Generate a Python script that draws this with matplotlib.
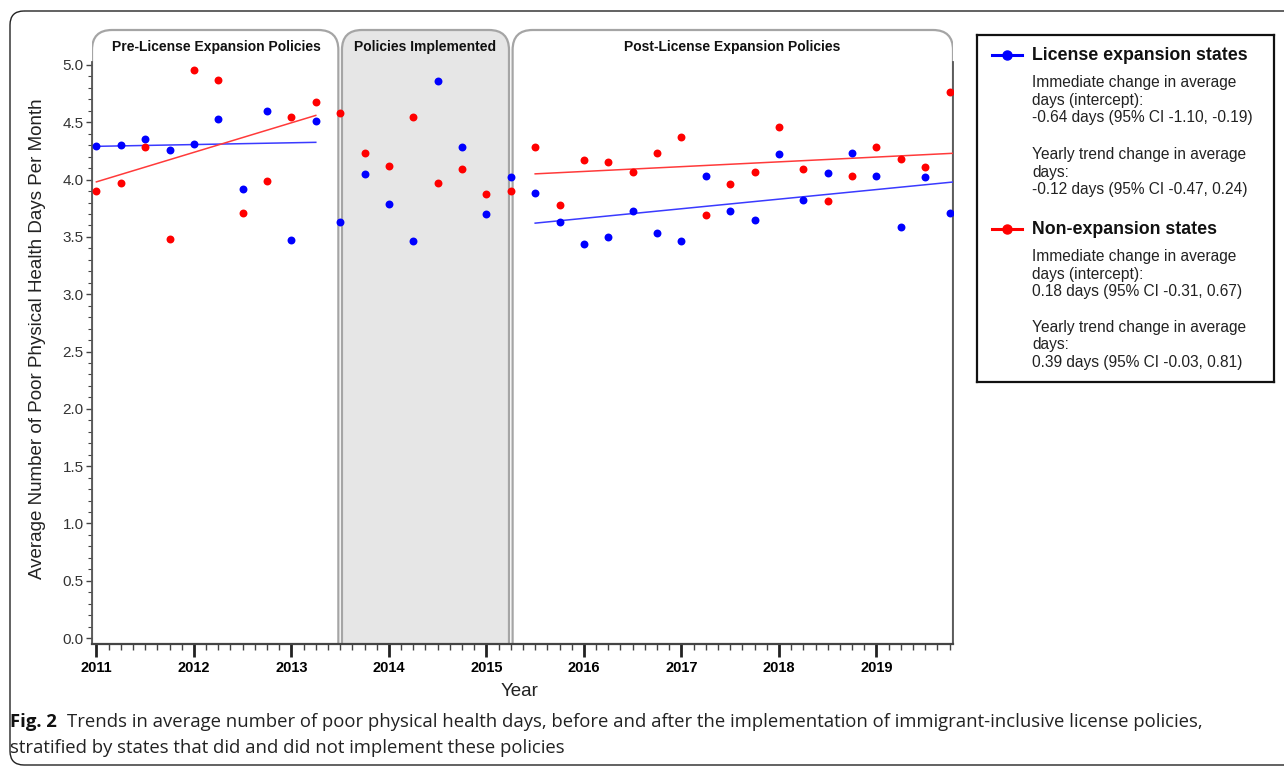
import numpy as np
import matplotlib.pyplot as plt
from matplotlib.patches import FancyBboxPatch
from matplotlib.transforms import IdentityTransform
from matplotlib.lines import Line2D
from matplotlib.ticker import MultipleLocator, FixedLocator, FormatStrFormatter

W, H = 1284, 770

# ---------------------------- data -------------------------------
quarters = [2011.00, 2011.25, 2011.50, 2011.75, 2012.00, 2012.25, 2012.50, 2012.75,
            2013.00, 2013.25, 2013.50, 2013.75, 2014.00, 2014.25, 2014.50, 2014.75,
            2015.00, 2015.25, 2015.50, 2015.75, 2016.00, 2016.25, 2016.50, 2016.75,
            2017.00, 2017.25, 2017.50, 2017.75, 2018.00, 2018.25, 2018.50, 2018.75,
            2019.00, 2019.25, 2019.50, 2019.75]

expansion = [4.29, 4.30, 4.35, 4.26, 4.31, 4.53, 3.92, 4.60,
             3.47, 4.51, 3.63, 4.05, 3.79, 3.46, 4.86, 4.28,
             3.70, 4.02, 3.88, 3.63, 3.44, 3.50, 3.73, 3.53,
             3.46, 4.03, 3.73, 3.65, 4.22, 3.82, 4.06, 4.23,
             4.03, 3.59, 4.02, 3.71]

non_expansion = [3.90, 3.97, 4.28, 3.48, 4.96, 4.87, 3.71, 3.99,
                 4.55, 4.68, 4.58, 4.23, 4.12, 4.55, 3.97, 4.09,
                 3.87, 3.90, 4.28, 3.78, 4.17, 4.15, 4.07, 4.23,
                 4.37, 3.69, 3.96, 4.07, 4.46, 4.09, 3.81, 4.03,
                 4.28, 4.18, 4.11, 4.76]

# fitted segments
pre_x = [2011.0, 2013.25]
pre_expansion = [4.29, 4.325]
pre_non = [3.98, 4.56]
post_x = [2015.5, 2019.8]
post_expansion = [3.62, 3.98]
post_non = [4.05, 4.23]

XMIN, XMAX = 2010.955, 2019.785
periods = [("Pre-License Expansion Policies", XMIN, 2013.5),
           ("Policies Implemented", 2013.5, 2015.25),
           ("Post-License Expansion Policies", 2015.25, XMAX)]

legend_groups = [
    ("License expansion states", "#0000ff",
     ["Immediate change in average\ndays (intercept):\n-0.64 days (95% CI -1.10, -0.19)",
      "Yearly trend change in average\ndays:\n-0.12 days (95% CI -0.47, 0.24)"]),
    ("Non-expansion states", "#ff0000",
     ["Immediate change in average\ndays (intercept):\n0.18 days (95% CI -0.31, 0.67)",
      "Yearly trend change in average\ndays:\n0.39 days (95% CI -0.03, 0.81)"]),
]

caption_bold = "Fig. 2"
caption_line1 = ("Trends in average number of poor physical health days, before and after the "
                 "implementation of immigrant-inclusive license policies,")
caption_line2 = "stratified by states that did and did not implement these policies"

BLUE = "#0000ff"
RED = "#ff0000"

plt.rcParams['font.family'] = ['Liberation Sans', 'DejaVu Sans']

fig = plt.figure(figsize=(W / 100, H / 100), dpi=100)

# outer frame of the figure
frame_ax = fig.add_axes([0, 0, 1, 1])
frame_ax.set_xlim(0, W)
frame_ax.set_ylim(H, 0)
frame_ax.axis('off')
frame_ax.add_patch(FancyBboxPatch((10, 11), W + 40, H - 16,
                                  boxstyle="round,pad=0,rounding_size=14",
                                  fc='none', ec='#222222', lw=1.0))

# ---------------------------- main axes -------------------------------
ax = fig.add_axes([92 / W, 1 - 644 / H, (953 - 92) / W, (644 - 26) / H])
ax.set_xlim(XMIN, XMAX)
ax.set_ylim(-0.052, 5.34)
ax.patch.set_alpha(0)

# rounded period tabs
trans = ax.transData
top = ax.bbox.y1 - 4
bottom = ax.bbox.y0 - 60
for i, (name, x0, x1) in enumerate(periods):
    xa = trans.transform((x0, 0))[0]
    xb = trans.transform((x1, 0))[0]
    ga = 0 if i == 0 else 1.8
    gb = 0 if i == len(periods) - 1 else 1.8
    fc = '#e6e6e6' if i == 1 else 'white'
    box = FancyBboxPatch((xa + ga, bottom), (xb - gb) - (xa + ga), top - bottom,
                         boxstyle="round,pad=0,rounding_size=20",
                         transform=IdentityTransform(), fc=fc, ec='#a5a5a5',
                         lw=1.6, zorder=0.5)
    ax.add_patch(box)
    ax.text((x0 + x1) / 2, 5.16, name, ha='center', va='center',
            fontsize=10, fontweight='bold', color='#111111', zorder=3)

ax.plot(quarters, expansion, 'o', color=BLUE, ms=5.7, mec='none', zorder=4)
ax.plot(quarters, non_expansion, 'o', color=RED, ms=5.7, mec='none', zorder=4)
ax.plot(pre_x, pre_expansion, color='#3a3aff', lw=1.1, zorder=3)
ax.plot(pre_x, pre_non, color='#ff3a3a', lw=1.1, zorder=3)
ax.plot(post_x, post_expansion, color='#3a3aff', lw=1.1, zorder=3)
ax.plot(post_x, post_non, color='#ff3a3a', lw=1.1, zorder=3)

for side in ['left', 'right']:
    ax.spines[side].set_bounds(-0.052, 5.03)
    ax.spines[side].set_color('#555555')
    ax.spines[side].set_linewidth(1.3)
ax.spines['top'].set_visible(False)
ax.spines['bottom'].set_color('#444444')
ax.spines['bottom'].set_linewidth(1.6)

ax.yaxis.set_major_locator(FixedLocator(np.arange(0, 5.01, 0.5)))
ax.yaxis.set_minor_locator(FixedLocator(np.arange(0, 5.01, 0.1)))
ax.yaxis.set_major_formatter(FormatStrFormatter('%.1f'))
ax.xaxis.set_major_locator(MultipleLocator(1))
ax.xaxis.set_minor_locator(MultipleLocator(0.125))
ax.xaxis.set_major_formatter(FormatStrFormatter('%d'))

ax.tick_params(axis='y', which='major', length=4, width=1.0, color='#444444',
               labelsize=11, labelcolor='#333333', pad=2)
ax.tick_params(axis='y', which='minor', length=3, width=0.8, color='#444444')
ax.tick_params(axis='x', which='major', length=9, width=2.0, color='#222222',
               labelsize=10.5, pad=3)
ax.tick_params(axis='x', which='minor', length=4, width=1.0, color='#444444')
for lab in ax.get_xticklabels():
    lab.set_fontweight('bold')

fig.text(38 / W, 1 - 339 / H, "Average Number of Poor Physical Health Days Per Month",
         rotation=90, ha='center', va='center', fontsize=13.5, color='#222222')
fig.text(520 / W, 1 - 692 / H, "Year", ha='center', va='center',
         fontsize=13.5, color='#222222')

# ---------------------------- legend box -------------------------------
lax = fig.add_axes([977 / W, 1 - 382 / H, (1274 - 977) / W, (382 - 35) / H])
lax.set_xlim(977, 1274)
lax.set_ylim(382, 35)
lax.set_xticks([])
lax.set_yticks([])
for s in lax.spines.values():
    s.set_linewidth(1.6)
    s.set_color('#111111')

head_y = [55, 229]
para_y = [[100, 172], [274, 345]]
for (title, col, paras), hy, pys in zip(legend_groups, head_y, para_y):
    lax.add_line(Line2D([992, 1007, 1022], [hy, hy, hy], color=col, lw=2.2,
                        marker='o', ms=6.5, markevery=[1]))
    lax.text(1032, hy, title, ha='left', va='center', fontsize=12.8,
             fontweight='bold', color='#111111')
    for txt, py in zip(paras, pys):
        lax.text(1032, py, txt, ha='left', va='center', fontsize=11.2,
                 color='#222222', linespacing=1.24)

# ---------------------------- caption -------------------------------
cap_font = ['Open Sans', 'DejaVu Sans']
t_bold = fig.text(10 / W, 1 - 722 / H, caption_bold, ha='left', va='center',
                  fontsize=13.3, fontweight='bold', family=cap_font, color='#111111')
fig.canvas.draw()
bb = t_bold.get_window_extent()
fig.text((bb.x1 + 10) / W, 1 - 722 / H, caption_line1, ha='left', va='center',
         fontsize=13.3, family=cap_font, color='#222222')
fig.text(10 / W, 1 - 748 / H, caption_line2, ha='left', va='center',
         fontsize=13.3, family=cap_font, color='#222222')

fig.savefig("out.png", dpi=100)
